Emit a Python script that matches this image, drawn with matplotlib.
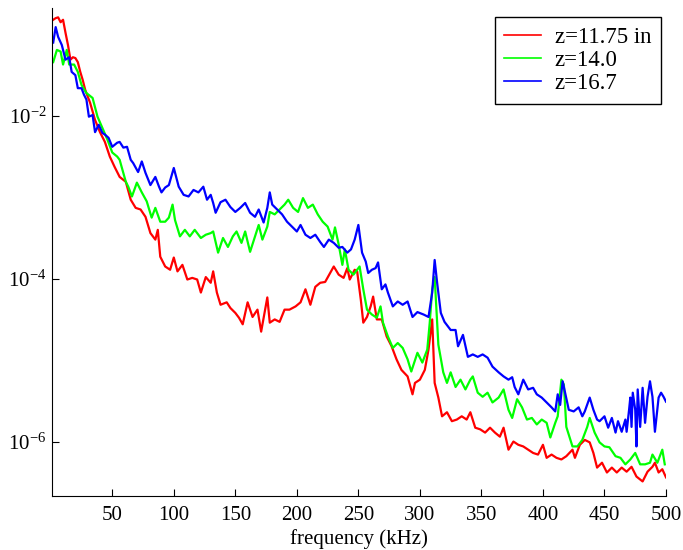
import matplotlib
matplotlib.use("Agg")
import matplotlib.pyplot as plt
import numpy as np

# spectra, stored as log10 of the amplitude
freq_a = [2, 4, 6, 8, 10, 12, 14, 16, 18, 20, 22, 24, 26, 28, 32, 36, 40, 44, 48, 52,
          56, 61, 65, 69, 73, 77, 81, 85, 87, 89, 93, 97, 100, 103, 107, 111, 115, 119, 122, 126,
          130, 132, 135, 138, 143, 146, 150, 153, 156, 160, 164, 168, 171, 176, 178, 182, 186, 190, 194, 199,
          203, 207, 211, 215, 219, 223, 227, 230, 234, 238, 241, 243, 247, 249, 252, 254, 257, 260, 262, 265,
          269, 273, 277, 281, 285, 290, 294, 296, 300, 304, 307, 310, 312, 315, 318, 322, 326, 330, 334, 338,
          341, 345, 349, 353, 357, 361, 365, 368, 372, 376, 380, 384, 388, 392, 396, 400, 403, 407, 411, 415,
          419, 424, 426, 430, 434, 438, 441, 444, 448, 452, 456, 460, 464, 468, 472, 476, 481, 485, 489, 491,
          494, 497, 500]
log_a = [-0.82, -0.80, -0.79, -0.85, -0.82, -0.98, -1.13, -1.31, -1.28, -1.29, -1.34, -1.46, -1.56, -1.68, -1.84, -2.05, -2.20, -2.32, -2.50, -2.63,
         -2.75, -2.81, -3.03, -3.13, -3.15, -3.24, -3.44, -3.52, -3.40, -3.73, -3.85, -3.89, -3.74, -3.91, -3.83, -4.01, -3.99, -4.01, -4.17, -3.98,
         -4.05, -3.91, -4.17, -4.32, -4.29, -4.36, -4.42, -4.48, -4.56, -4.29, -4.47, -4.38, -4.65, -4.23, -4.54, -4.50, -4.53, -4.38, -4.38, -4.34,
         -4.29, -4.13, -4.32, -4.10, -4.05, -4.04, -3.93, -3.85, -3.95, -3.99, -3.87, -4.01, -3.89, -3.91, -4.26, -4.54, -4.47, -4.34, -4.22, -4.50,
         -4.50, -4.71, -4.83, -4.99, -5.12, -5.20, -5.42, -5.28, -5.24, -5.12, -4.87, -4.50, -5.28, -5.46, -5.69, -5.64, -5.75, -5.73, -5.69, -5.73,
         -5.64, -5.83, -5.85, -5.89, -5.83, -5.89, -5.94, -5.83, -6.10, -6.00, -6.04, -6.06, -6.10, -6.14, -6.16, -6.04, -6.20, -6.16, -6.20, -6.22,
         -6.18, -6.10, -6.20, -6.04, -5.98, -6.01, -6.14, -6.32, -6.26, -6.38, -6.32, -6.38, -6.32, -6.37, -6.31, -6.43, -6.49, -6.37, -6.31, -6.26,
         -6.38, -6.34, -6.44]

freq_b = [2, 5, 8, 10, 13, 15, 19, 22, 25, 29, 34, 38, 42, 46, 50, 54, 56, 61, 63, 66,
          70, 74, 78, 82, 85, 89, 93, 96, 99, 101, 105, 109, 113, 117, 122, 126, 130, 132, 136, 140,
          144, 148, 151, 155, 158, 162, 166, 169, 172, 176, 178, 182, 186, 190, 193, 197, 201, 205, 209, 213,
          217, 221, 225, 229, 231, 234, 237, 239, 242, 246, 249, 251, 254, 257, 261, 265, 268, 270, 274, 278,
          282, 286, 290, 293, 298, 302, 306, 308, 310, 312, 315, 319, 322, 325, 329, 333, 337, 341, 343, 347,
          351, 355, 359, 364, 368, 372, 375, 379, 383, 387, 391, 395, 399, 403, 406, 410, 412, 415, 417, 419,
          424, 428, 432, 436, 438, 442, 446, 450, 454, 459, 463, 467, 471, 475, 479, 483, 487, 489, 493, 497,
          499]
log_b = [-1.34, -1.19, -1.21, -1.37, -1.19, -1.37, -1.37, -1.46, -1.62, -1.72, -1.78, -2.01, -2.15, -2.29, -2.45, -2.50, -2.54, -2.81, -2.87, -2.99,
         -2.82, -2.94, -3.05, -3.25, -3.13, -3.30, -3.30, -3.25, -3.09, -3.28, -3.48, -3.40, -3.48, -3.40, -3.50, -3.46, -3.44, -3.42, -3.68, -3.50,
         -3.61, -3.48, -3.42, -3.56, -3.42, -3.67, -3.48, -3.34, -3.52, -3.36, -3.18, -3.21, -3.15, -3.09, -3.03, -3.13, -3.18, -3.01, -3.13, -3.09,
         -3.21, -3.30, -3.36, -3.52, -3.37, -3.58, -3.83, -3.64, -3.89, -3.95, -3.89, -3.85, -4.13, -4.38, -4.44, -4.48, -4.34, -4.54, -4.71, -4.85,
         -4.79, -4.85, -4.99, -5.14, -4.91, -5.03, -4.87, -4.54, -4.13, -3.98, -4.81, -5.15, -5.28, -5.15, -5.33, -5.24, -5.36, -5.24, -5.20, -5.40,
         -5.45, -5.40, -5.52, -5.46, -5.36, -5.61, -5.71, -5.48, -5.58, -5.73, -5.71, -5.79, -5.73, -5.77, -5.95, -5.77, -5.69, -5.24, -5.30, -5.82,
         -6.06, -6.06, -5.98, -5.82, -5.71, -5.89, -6.01, -6.06, -6.07, -6.18, -6.20, -6.28, -6.22, -6.14, -6.28, -6.28, -6.26, -6.16, -6.26, -6.10,
         -6.28]

freq_c = [2, 4, 6, 9, 12, 15, 17, 20, 22, 25, 27, 29, 31, 34, 36, 39, 42, 44, 47, 50,
          54, 56, 59, 62, 65, 67, 71, 74, 77, 81, 85, 88, 90, 93, 96, 100, 104, 108, 112, 116,
          120, 124, 127, 130, 132, 134, 138, 142, 146, 150, 154, 158, 162, 166, 169, 173, 176, 178, 180, 184,
          188, 192, 196, 200, 203, 207, 211, 215, 219, 222, 226, 230, 234, 237, 241, 244, 247, 250, 253, 256,
          258, 261, 264, 266, 269, 272, 274, 278, 282, 286, 290, 294, 298, 303, 307, 310, 312, 314, 317, 320,
          325, 329, 331, 335, 339, 343, 347, 351, 355, 359, 364, 368, 372, 375, 377, 380, 384, 388, 392, 395,
          399, 403, 407, 410, 412, 414, 416, 418, 421, 425, 429, 432, 434, 438, 441, 444, 446, 450, 453, 456,
          459, 461, 464, 467, 468, 470, 471, 472, 473, 475, 476, 477, 479, 481, 483, 485, 487, 489, 491, 494,
          496, 498, 500]
log_c = [-1.10, -0.91, -1.03, -1.13, -1.31, -1.28, -1.46, -1.50, -1.66, -1.66, -1.74, -1.80, -2.01, -1.99, -2.20, -2.11, -2.21, -2.23, -2.27, -2.38,
         -2.33, -2.32, -2.39, -2.38, -2.54, -2.58, -2.69, -2.56, -2.70, -2.85, -2.75, -2.87, -2.94, -2.88, -2.85, -2.64, -2.87, -2.97, -2.99, -2.91,
         -2.94, -2.87, -3.03, -2.97, -3.07, -3.19, -3.06, -3.03, -3.12, -3.18, -3.13, -3.07, -3.19, -3.24, -3.15, -3.31, -3.13, -2.94, -3.09, -3.15,
         -3.21, -3.30, -3.36, -3.42, -3.34, -3.46, -3.50, -3.46, -3.55, -3.61, -3.52, -3.56, -3.62, -3.61, -3.68, -3.64, -3.52, -3.34, -3.68, -3.79,
         -3.93, -3.89, -3.87, -3.80, -4.13, -4.07, -4.17, -4.34, -4.28, -4.32, -4.28, -4.47, -4.41, -4.44, -4.47, -4.17, -3.77, -4.05, -4.42, -4.53,
         -4.63, -4.63, -4.83, -4.69, -4.96, -4.93, -4.96, -4.93, -4.97, -5.08, -5.15, -5.20, -5.24, -5.21, -5.33, -5.42, -5.24, -5.36, -5.34, -5.42,
         -5.46, -5.52, -5.58, -5.63, -5.42, -5.55, -5.26, -5.40, -5.61, -5.63, -5.58, -5.69, -5.63, -5.46, -5.61, -5.73, -5.75, -5.69, -5.83, -5.71,
         -5.89, -5.75, -5.88, -5.73, -5.88, -5.61, -5.46, -5.82, -5.40, -5.61, -6.06, -5.36, -5.82, -5.34, -5.77, -5.45, -5.26, -5.45, -5.88, -5.46,
         -5.40, -5.45, -5.51]

labels = ["z=11.75 in", "z=14.0", "z=16.7"]
colors = ["#ff0000", "#00ff00", "#0000ff"]
xticks = [50, 100, 150, 200, 250, 300, 350, 400, 450, 500]
yticks = [1e-2, 1e-4, 1e-6]
ytick_labels = [r"$10^{-2}$", r"$10^{-4}$", r"$10^{-6}$"]

plt.rcParams["font.family"] = ["Liberation Serif", "DejaVu Serif"]
plt.rcParams["mathtext.fontset"] = "custom"
plt.rcParams["mathtext.rm"] = "Liberation Serif"
plt.rcParams["mathtext.it"] = "Liberation Serif:italic"

fig = plt.figure(figsize=(6.83, 5.5), dpi=100)
ax = fig.add_axes([0.0761, 0.098, 0.899, 0.8875])

series = [(freq_a, log_a), (freq_b, log_b), (freq_c, log_c)]
for (f, lg), lab, col in zip(series, labels, colors):
    ax.plot(f, 10 ** np.array(lg), color=col, lw=1.6, label=lab)

ax.set_yscale("log")
ax.set_xlim(1, 500)
ax.set_ylim(10 ** -6.67, 10 ** -0.675)
ax.set_xticks(xticks)
ax.set_yticks(yticks)
ax.set_yticklabels(ytick_labels)
ax.minorticks_off()
ax.tick_params(direction="in", length=5, width=0.8, labelsize=15)
ax.tick_params(axis="x", pad=7)
ax.tick_params(axis="y", pad=4)
for s in ("top", "right"):
    ax.spines[s].set_visible(False)
ax.set_xlabel("frequency (kHz)", fontsize=15, labelpad=3)

leg = ax.legend(loc="upper right", bbox_to_anchor=(661 / 683, 1 - 17 / 550),
                bbox_transform=fig.transFigure, borderaxespad=0,
                fontsize=16.5, frameon=True, fancybox=False, framealpha=1,
                edgecolor="black", handlelength=1.6, labelspacing=0.1,
                borderpad=0.42, handletextpad=0.6)
leg.get_frame().set_linewidth(1.0)
for h in leg.get_lines():
    h.set_linewidth(1.2)

fig.savefig("out.png", dpi=100)
